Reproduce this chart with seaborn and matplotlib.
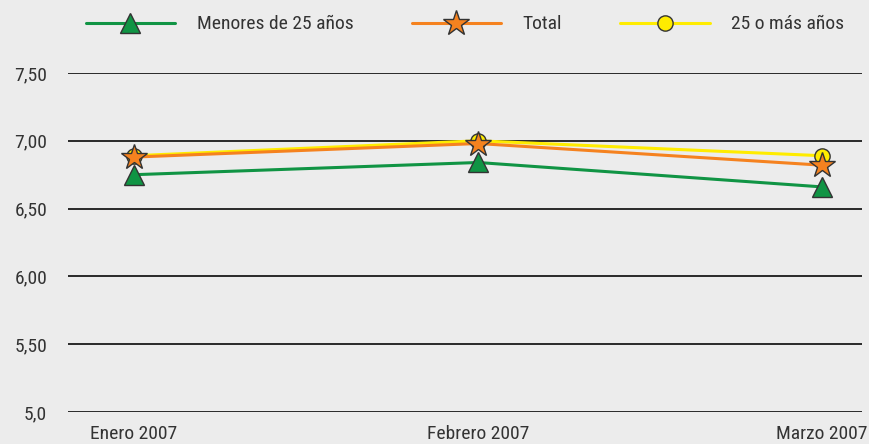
import matplotlib
matplotlib.use("Agg")
import matplotlib.pyplot as plt
import seaborn as sns
import pandas as pd
from matplotlib import font_manager

categories = ["Enero 2007", "Febrero 2007", "Marzo 2007"]
menores = [6.75, 6.84, 6.66]
total = [6.88, 6.98, 6.82]
mayores = [6.89, 7.00, 6.89]
series_names = ["Menores de 25 años", "Total", "25 o más años"]
yticks = [5.0, 5.5, 6.0, 6.5, 7.0, 7.5]
ytick_labels = ["5,0", "5,50", "6,00", "6,50", "7,00", "7,50"]

sns.set_theme(style="white")
avail = {f.name for f in font_manager.fontManager.ttflist}
fam, fs = "Roboto", 12.5
for cand in ["Roboto Condensed", "Liberation Sans Narrow", "Open Sans Condensed"]:
    if cand in avail:
        fam, fs = cand, 14
        break
plt.rcParams["font.family"] = [fam, "DejaVu Sans"]

bg = "#ececec"
fig = plt.figure(figsize=(8.69, 4.44), dpi=100, facecolor=bg)
ax = fig.add_axes([68/869, 32/444, (862-68)/869, (412-73)/444], facecolor=bg)

df = pd.DataFrame({
    "x": list(range(3)) * 3,
    "y": menores + total + mayores,
    "serie": [series_names[0]] * 3 + [series_names[1]] * 3 + [series_names[2]] * 3,
})

styles = {
    series_names[2]: dict(color="#ffec00", marker="o", ms=11, z=3),
    series_names[1]: dict(color="#f5821f", marker="*", ms=19, z=4),
    series_names[0]: dict(color="#109444", marker="^", ms=14, z=5),
}
for name in [series_names[2], series_names[1], series_names[0]]:
    st = styles[name]
    sub = df[df["serie"] == name]
    sns.lineplot(data=sub, x="x", y="y", ax=ax, color=st["color"], lw=2.2,
                 marker=st["marker"], markersize=st["ms"], markerfacecolor=st["color"],
                 markeredgecolor="#333333", markeredgewidth=1.0, label=name,
                 zorder=st["z"])

for yv in yticks:
    ax.axhline(yv, color="#1a1a1a", lw=1.3, zorder=1)

ax.set_xlim(-0.192, 2.116)
ax.set_ylim(5.0, 7.5)
ax.set_yticks(yticks)
ax.set_yticklabels(ytick_labels)
ax.set_xticks(range(3))
ax.set_xticklabels(categories)
ax.set_xlabel("")
ax.set_ylabel("")
for s in ax.spines.values():
    s.set_visible(False)
ax.tick_params(axis="both", length=0, labelsize=fs, colors="#333333")
ax.tick_params(axis="y", pad=15)
ax.tick_params(axis="x", pad=9)

handles, labels = ax.get_legend_handles_labels()
order = [labels.index(n) for n in series_names]
leg = ax.legend([handles[i] for i in order], [labels[i] for i in order],
                loc="lower center", bbox_to_anchor=(0.5, 1.065), ncol=3, frameon=False,
                fontsize=fs, handlelength=4.6, columnspacing=3.0, handletextpad=1.1,
                labelcolor="#333333")

fig.savefig("out.png", dpi=100, facecolor=bg)
